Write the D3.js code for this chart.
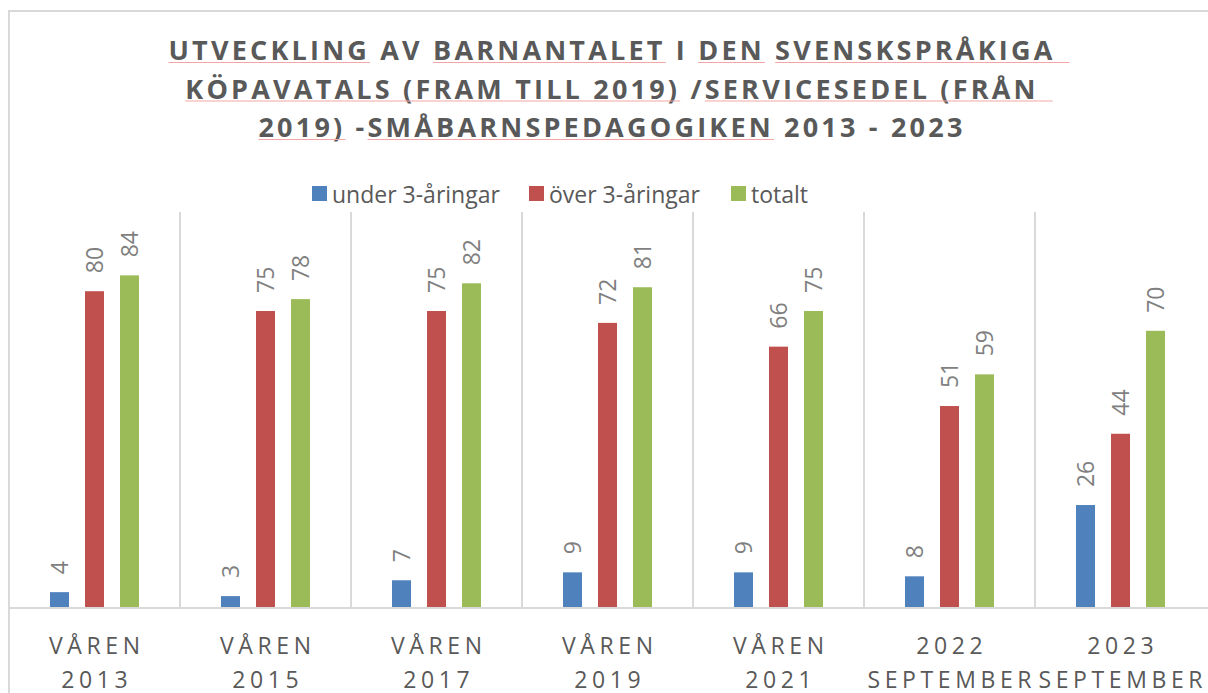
<!DOCTYPE html>
<html>
<head>
<meta charset="utf-8">
<script src="https://cdn.jsdelivr.net/npm/d3@7"></script>
<style>
  body { margin: 0; background: #fff; }
  svg { display: block; }
</style>
</head>
<body>
<div id="chart"></div>
<script>
const width = 1208, height = 693;

const categories = ["VÅREN 2013", "VÅREN 2015", "VÅREN 2017", "VÅREN 2019", "VÅREN 2021", "2022 SEPTEMBER", "2023 SEPTEMBER"];
const categoryLines = [["VÅREN", "2013"], ["VÅREN", "2015"], ["VÅREN", "2017"], ["VÅREN", "2019"], ["VÅREN", "2021"], ["2022", "SEPTEMBER"], ["2023", "SEPTEMBER"]];
const under3 = [4, 3, 7, 9, 9, 8, 26];
const over3 = [80, 75, 75, 72, 66, 51, 44];
const total = [84, 78, 82, 81, 75, 59, 70];
const seriesNames = ["under 3-åringar", "över 3-åringar", "totalt"];
const seriesColors = ["#4f81bd", "#c0504d", "#9bbb59"];
const titleLines = [
  "UTVECKLING AV BARNANTALET I DEN SVENSKSPRÅKIGA",
  "KÖPAVATALS (FRAM TILL 2019) /SERVICESEDEL (FRÅN",
  "2019) -SMÅBARNSPEDAGOGIKEN 2013 - 2023"
];
// words flagged by the spell checker (line index, text)
const flagged = [
  [0, "UTVECKLING"], [0, "BARNANTALET"], [0, "DEN"], [0, "SVENSKSPRÅKIGA"],
  [1, "KÖPAVATALS (FRAM TILL 2019)"], [1, "SERVICESEDEL (FRÅN"],
  [2, "2019)"], [2, "SMÅBARNSPEDAGOGIKEN"]
];

const margin = { top: 212, left: 9, bottom: 85 };
const plotRight = 1206;
const baseline = height - margin.bottom; // 608

const series = [under3, over3, total];
const data = categories.map((c, i) => ({ cat: c, lines: categoryLines[i], values: series.map(s => s[i]) }));

const svg = d3.select("#chart").append("svg")
  .attr("width", width)
  .attr("height", height)
  .attr("viewBox", [0, 0, width, height]);

// chart border (left + top visible)
svg.append("path")
  .attr("d", `M${margin.left},${height} V11 H${width}`)
  .attr("fill", "none")
  .attr("stroke", "#d9d9d9")
  .attr("stroke-width", 2);

/* title */
const titleG = svg.append("g");
const titleTexts = titleG.selectAll("text")
  .data(titleLines)
  .join("text")
    .attr("x", 612)
    .attr("y", (d, i) => 60 + i * 38.5)
    .attr("text-anchor", "middle")
    .attr("font-family", "'Open Sans', sans-serif")
    .attr("font-weight", 700)
    .attr("font-size", 27)
    .attr("letter-spacing", 3.2)
    .attr("fill", "#595959")
    .text(d => d);

// red spell-check underlines
flagged.forEach(([li, word]) => {
  const node = titleTexts.nodes()[li];
  const start = titleLines[li].indexOf(word);
  const end = start + word.length - 1;
  const x0 = node.getStartPositionOfChar(start).x;
  let x1 = node.getEndPositionOfChar(end).x;
  if (end === titleLines[li].length - 1) x1 += 14;
  titleG.append("line")
    .attr("x1", x0).attr("x2", x1)
    .attr("y1", 62.5 + li * 38.5).attr("y2", 62.5 + li * 38.5)
    .attr("stroke", "#f3a5a5")
    .attr("stroke-width", 1.2);
});

/* scales */
const xScale = d3.scaleBand()
  .domain(categories)
  .range([margin.left, plotRight]);

const innerScale = d3.scalePoint()
  .domain(seriesNames)
  .range([-35, 35]);

const yScale = d3.scaleLinear()
  .domain([0, 100])
  .range([baseline, margin.top]);

const barWidth = 19;

/* legend */
const legendX = [312, 529, 731];
const legend = svg.append("g")
  .selectAll("g")
  .data(seriesNames)
  .join("g")
    .attr("transform", (d, i) => `translate(${legendX[i]}, 186)`);
legend.append("rect")
  .attr("width", 15)
  .attr("height", 15)
  .attr("fill", (d, i) => seriesColors[i]);
legend.append("text")
  .attr("x", 20)
  .attr("y", 17)
  .attr("font-family", "'Open Sans', sans-serif")
  .attr("font-size", 23)
  .attr("fill", "#595959")
  .text(d => d);

/* category separators */
svg.append("g")
  .selectAll("line")
  .data(categories.slice(1))
  .join("line")
    .attr("x1", d => xScale(d)).attr("x2", d => xScale(d))
    .attr("y1", margin.top).attr("y2", baseline)
    .attr("stroke", "#d9d9d9")
    .attr("stroke-width", 2);

/* bars */
const groups = svg.append("g")
  .selectAll("g")
  .data(data)
  .join("g")
    .attr("transform", d => `translate(${xScale(d.cat) + xScale.bandwidth() / 2}, 0)`);

groups.selectAll("rect")
  .data(d => d.values.map((v, i) => ({ key: seriesNames[i], value: v, color: seriesColors[i] })))
  .join("rect")
    .attr("x", d => innerScale(d.key) - barWidth / 2)
    .attr("y", d => yScale(d.value))
    .attr("width", barWidth)
    .attr("height", d => baseline - yScale(d.value))
    .attr("fill", d => d.color);

groups.selectAll("text.label")
  .data(d => d.values.map((v, i) => ({ key: seriesNames[i], value: v })))
  .join("text")
    .attr("class", "label")
    .attr("transform", d => `translate(${innerScale(d.key)}, ${yScale(d.value) - 18}) rotate(-90)`)
    .attr("dy", "0.36em")
    .attr("font-family", "'Open Sans', sans-serif")
    .attr("font-size", 23)
    .attr("fill", "#7f7f7f")
    .text(d => d.value);

/* x axis line */
svg.append("line")
  .attr("x1", margin.left).attr("x2", width)
  .attr("y1", baseline).attr("y2", baseline)
  .attr("stroke", "#d9d9d9")
  .attr("stroke-width", 2);

/* category labels */
const catLabels = svg.append("g")
  .selectAll("text")
  .data(data)
  .join("text")
    .attr("text-anchor", "middle")
    .attr("font-family", "'Open Sans', sans-serif")
    .attr("font-size", 23)
    .attr("letter-spacing", 4.6)
    .attr("fill", "#595959");

catLabels.selectAll("tspan")
  .data(d => d.lines.map(l => ({ line: l, cat: d.cat })))
  .join("tspan")
    .attr("x", d => xScale(d.cat) + xScale.bandwidth() / 2 + 2.3)
    .attr("y", (d, i) => 654 + i * 34)
    .text(d => d.line);
</script>
</body>
</html>
